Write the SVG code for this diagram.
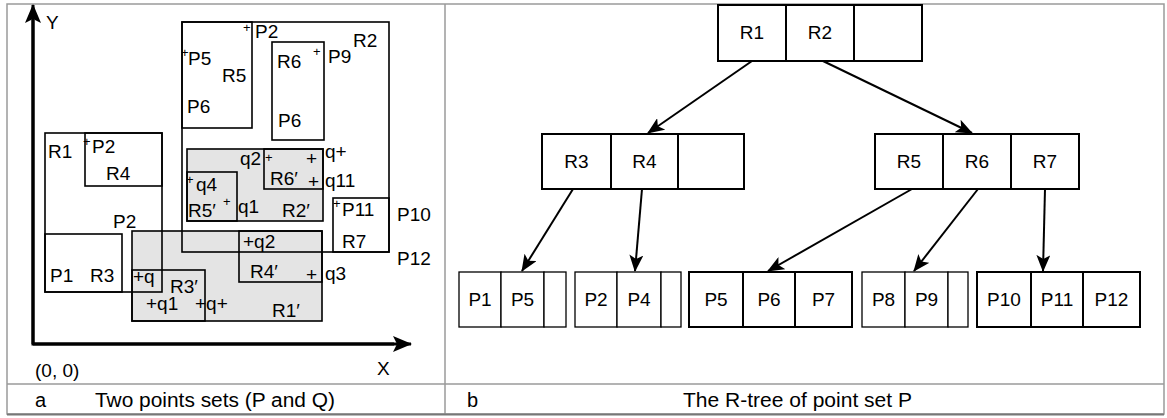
<svg xmlns="http://www.w3.org/2000/svg" width="1167" height="418" viewBox="0 0 1167 418">
  <style>
    text { font-family: "Liberation Sans", Arial, Helvetica, sans-serif; fill: #000; }
    .lbl { font-size: 19px; }
    .sm { font-size: 13px; }
    .cap { font-size: 20px; }
    .frame { fill: none; stroke: #9a9a9a; stroke-width: 1.5; }
    .shade { fill: #e4e4e4; stroke: none; }
    .box { fill: none; stroke: #000; stroke-width: 1.6; }
    .axis { fill: none; stroke: #000; stroke-width: 3; }
    .cell { fill: #fff; stroke: #000; stroke-width: 2; }
    .thin { stroke-width: 1.3; }
    .mid { text-anchor: middle; }
    .edge { fill: none; stroke: #000; stroke-width: 2; marker-end: url(#head); }
  </style>
  <defs>
    <marker id="head" markerUnits="userSpaceOnUse" markerWidth="18" markerHeight="14" refX="16" refY="7" orient="auto">
      <path d="M0,0 L17,7 L0,14 L4,7 Z" fill="#000"/>
    </marker>
    <marker id="axhead" markerUnits="userSpaceOnUse" markerWidth="20" markerHeight="16" refX="18" refY="8" orient="auto">
      <path d="M0,0 L19,8 L0,16 L4,8 Z" fill="#000"/>
    </marker>
  </defs>

  <rect width="1167" height="418" fill="#fff"/>

  <!-- panel frame -->
  <g id="frame">
    <rect class="frame" x="7" y="4" width="1157" height="410"/>
    <line class="frame" x1="445" y1="4" x2="445" y2="414"/>
    <line class="frame" x1="7" y1="384" x2="1164" y2="384"/>
    <line x1="7" y1="414.5" x2="1164" y2="414.5" stroke="#777" stroke-width="2"/>
  </g>

  <!-- (a) point sets P and Q with their bounding rectangles -->
  <g id="panel-a">
    <g id="shaded">
      <rect class="shade" x="187" y="149" width="136" height="72"/>
      <rect class="shade" x="132" y="231" width="190" height="90"/>
    </g>
    <g id="rects">
      <rect id="R1" class="box" x="45" y="133" width="117" height="159"/>
      <rect id="R4" class="box" x="85" y="133" width="77" height="53"/>
      <rect id="R3" class="box" x="45" y="234" width="77" height="58"/>
      <rect id="R2" class="box" x="182" y="22" width="207" height="230"/>
      <rect id="R5" class="box" x="182" y="22" width="70" height="106"/>
      <rect id="R6" class="box" x="272" y="42" width="52" height="98" stroke="#444"/>
      <rect id="R7" class="box" x="333" y="198" width="56" height="54"/>
      <rect id="R2p" class="box" x="187" y="149" width="136" height="72"/>
      <rect id="R6p" class="box" x="264" y="149" width="59" height="40"/>
      <rect id="R5p" class="box" x="187" y="172" width="50" height="49"/>
      <rect id="R1p" class="box" x="132" y="231" width="190" height="90"/>
      <rect id="R4p" class="box" x="239" y="231" width="83" height="51"/>
      <rect id="R3p" class="box" x="132" y="270" width="73" height="51"/>
    </g>
    <g id="axes">
      <polyline class="axis" points="33,20 33,344 394,344"/>
      <line class="axis" x1="33" y1="344" x2="33" y2="5" marker-end="url(#axhead)"/>
      <line class="axis" x1="33" y1="344" x2="411" y2="344" marker-end="url(#axhead)"/>
      <text class="lbl" x="46" y="29">Y</text>
      <text class="lbl" x="377" y="375">X</text>
      <text class="lbl" x="35" y="377">(0, 0)</text>
    </g>
    <g id="labels-a">
      <text class="sm" x="181" y="57">+</text><text class="lbl" x="188" y="65">P5</text>
      <text class="lbl" x="222" y="82">R5</text>
      <text class="lbl" x="187" y="113">P6</text>
      <text class="sm" x="243" y="32">+</text><text class="lbl" x="255" y="38">P2</text>
      <text class="lbl" x="277" y="68">R6</text>
      <text class="sm" x="313" y="56">+</text><text class="lbl" x="328" y="63">P9</text>
      <text class="lbl" x="353" y="47">R2</text>
      <text class="lbl" x="278" y="127">P6</text>

      <text class="lbl" x="48" y="158">R1</text>
      <text class="sm" x="83" y="146">+</text><text class="lbl" x="92" y="153">P2</text>
      <text class="lbl" x="106" y="180">R4</text>

      <text class="lbl" x="240" y="165">q2</text>
      <text class="sm" x="265" y="162">+</text>
      <text class="lbl" x="306" y="165">+</text>
      <text class="lbl" x="325" y="158">q+</text>
      <text class="lbl" x="270" y="185">R6′</text>
      <text class="lbl" x="308" y="188">+</text>
      <text class="lbl" x="325" y="187">q11</text>
      <text class="sm" x="186" y="184">+</text><text class="lbl" x="196" y="191">q4</text>
      <text class="lbl" x="188" y="217">R5′</text>
      <text class="sm" x="223" y="206">+</text>
      <text class="lbl" x="238" y="213">q1</text>
      <text class="lbl" x="282" y="217">R2′</text>
      <text class="sm" x="333" y="208">+</text><text class="lbl" x="342" y="216">P11</text>
      <text class="lbl" x="397" y="221">P10</text>
      <text class="lbl" x="342" y="248">R7</text>
      <text class="lbl" x="397" y="265">P12</text>

      <text class="lbl" x="113" y="228">P2</text>
      <text class="lbl" x="243" y="248">+q2</text>
      <text class="lbl" x="50" y="282">P1</text>
      <text class="lbl" x="90" y="282">R3</text>
      <text class="lbl" x="133" y="283">+q</text>
      <text class="lbl" x="250" y="278">R4′</text>
      <text class="lbl" x="306" y="281">+</text>
      <text class="lbl" x="325" y="280">q3</text>
      <text class="lbl" x="170" y="293">R3′</text>
      <text class="lbl" x="146" y="310">+q1</text>
      <text class="lbl" x="195" y="310">+q+</text>
      <text class="lbl" x="272" y="317">R1′</text>
    </g>
    <text class="cap" x="35" y="407">a</text>
    <text class="cap" x="95" y="407" textLength="240" lengthAdjust="spacingAndGlyphs">Two points sets (P and Q)</text>
  </g>

  <!-- (b) the R-tree of point set P -->
  <g id="panel-b">
    <g id="root">
      <rect class="cell" x="718" y="5" width="68" height="56"/>
      <rect class="cell" x="786" y="5" width="68" height="56"/>
      <rect class="cell" x="854" y="5" width="68" height="56"/>
      <text class="lbl mid" x="752" y="39">R1</text>
      <text class="lbl mid" x="820" y="39">R2</text>
    </g>
    <g id="node-r1">
      <rect class="cell" x="542" y="134" width="69" height="55"/>
      <rect class="cell" x="611" y="134" width="67" height="55"/>
      <rect class="cell" x="678" y="134" width="66" height="55"/>
      <text class="lbl mid" x="576.5" y="168">R3</text>
      <text class="lbl mid" x="644.5" y="168">R4</text>
    </g>
    <g id="node-r2">
      <rect class="cell" x="875" y="134" width="68" height="55"/>
      <rect class="cell" x="943" y="134" width="68" height="55"/>
      <rect class="cell" x="1011" y="134" width="68" height="55"/>
      <text class="lbl mid" x="909" y="168">R5</text>
      <text class="lbl mid" x="977" y="168">R6</text>
      <text class="lbl mid" x="1045" y="168">R7</text>
    </g>
    <g id="leaf-r3">
      <rect class="cell thin" x="459" y="272" width="42" height="55"/>
      <rect class="cell thin" x="501" y="272" width="43" height="55"/>
      <rect class="cell thin" x="544" y="272" width="22" height="55"/>
      <text class="lbl mid" x="480" y="306">P1</text>
      <text class="lbl mid" x="522.5" y="306">P5</text>
    </g>
    <g id="leaf-r4">
      <rect class="cell thin" x="575" y="272" width="42" height="55"/>
      <rect class="cell thin" x="617" y="272" width="44" height="55"/>
      <rect class="cell thin" x="661" y="272" width="20" height="55"/>
      <text class="lbl mid" x="596" y="306">P2</text>
      <text class="lbl mid" x="639" y="306">P4</text>
    </g>
    <g id="leaf-r5">
      <rect class="cell" x="689" y="272" width="54" height="55"/>
      <rect class="cell" x="743" y="272" width="52" height="55"/>
      <rect class="cell" x="795" y="272" width="57" height="55"/>
      <text class="lbl mid" x="716" y="306">P5</text>
      <text class="lbl mid" x="769" y="306">P6</text>
      <text class="lbl mid" x="823.5" y="306">P7</text>
    </g>
    <g id="leaf-r6">
      <rect class="cell thin" x="862" y="272" width="43" height="55"/>
      <rect class="cell thin" x="905" y="272" width="43" height="55"/>
      <rect class="cell thin" x="948" y="272" width="20" height="55"/>
      <text class="lbl mid" x="883.5" y="306">P8</text>
      <text class="lbl mid" x="926.5" y="306">P9</text>
    </g>
    <g id="leaf-r7">
      <rect class="cell" x="977" y="272" width="54" height="55"/>
      <rect class="cell" x="1031" y="272" width="52" height="55"/>
      <rect class="cell" x="1083" y="272" width="57" height="55"/>
      <text class="lbl mid" x="1004" y="306">P10</text>
      <text class="lbl mid" x="1057" y="306">P11</text>
      <text class="lbl mid" x="1111.5" y="306">P12</text>
    </g>
    <g id="connectors">
      <line class="edge" x1="752" y1="61" x2="648" y2="133"/>
      <line class="edge" x1="823" y1="61" x2="972" y2="133"/>
      <line class="edge" x1="573" y1="189" x2="522" y2="271"/>
      <line class="edge" x1="642" y1="189" x2="635" y2="271"/>
      <line class="edge" x1="912" y1="189" x2="768" y2="271"/>
      <line class="edge" x1="978" y1="189" x2="914" y2="271"/>
      <line class="edge" x1="1045" y1="189" x2="1043" y2="271"/>
    </g>
    <text class="cap" x="467" y="407">b</text>
    <text class="cap" x="683" y="407" textLength="229" lengthAdjust="spacingAndGlyphs">The R-tree of point set P</text>
  </g>
</svg>
